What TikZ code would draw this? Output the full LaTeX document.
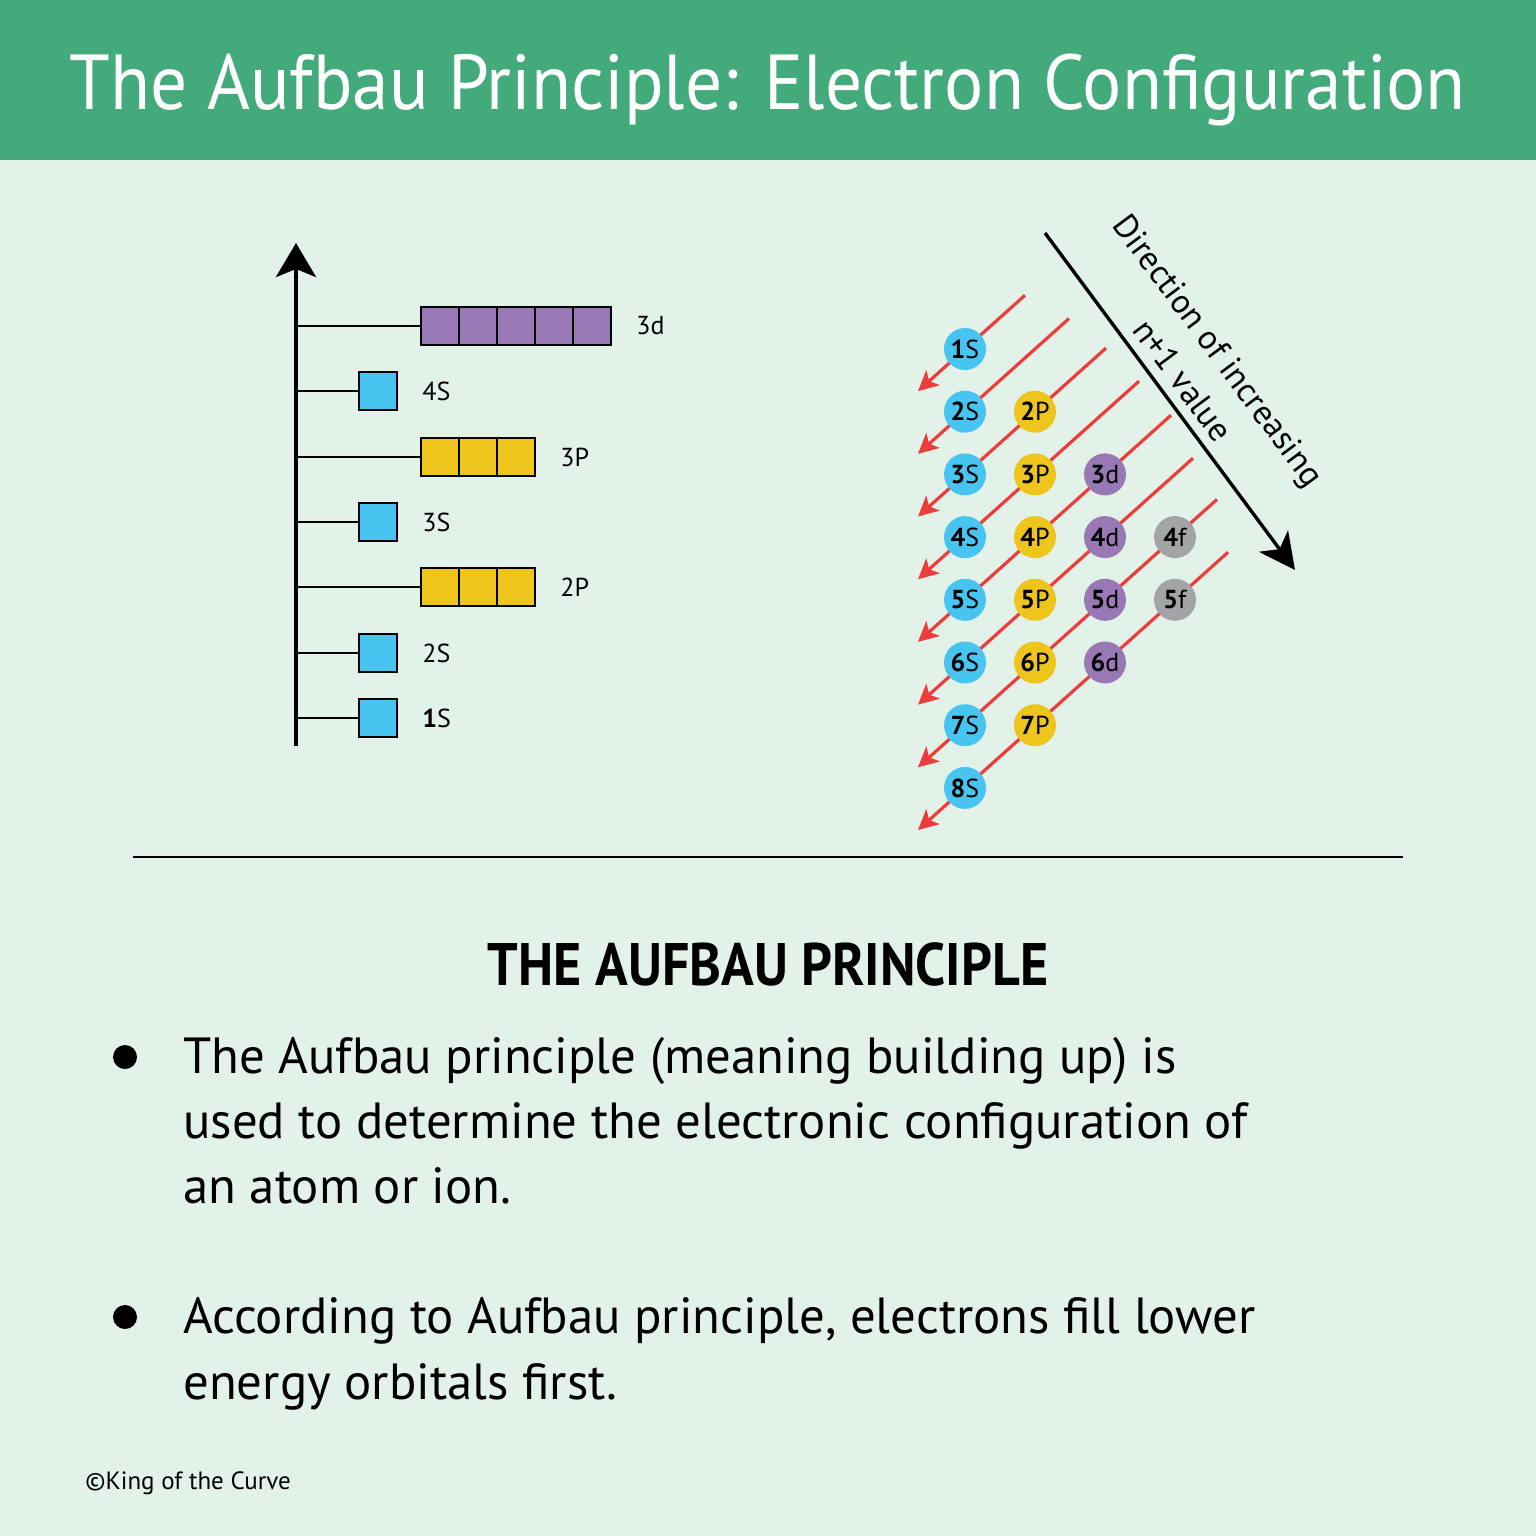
\documentclass[tikz,border=0pt]{standalone}
\usepackage{fontspec}
\setmainfont{PT Sans}
\newfontfamily\titlefont[FakeStretch=0.94]{PT Sans}
\newfontfamily\headfont[FakeStretch=0.9]{PT Sans}
\usetikzlibrary{arrows.meta,positioning,calc}
\definecolor{barGreen}{HTML}{42AA7B}
\definecolor{paleMint}{HTML}{E3F2E9}
\definecolor{sBlue}{HTML}{47C5F0}
\definecolor{pGold}{HTML}{EDC51C}
\definecolor{dPurple}{HTML}{9878B5}
\definecolor{fGray}{HTML}{A3A4A6}
\definecolor{lineRed}{HTML}{EC3D3D}
\tikzset{
  titletext/.style={anchor=base, text=white, inner sep=0pt,
                    font=\titlefont\fontsize{39}{44}\selectfont},
  headtext/.style={anchor=base, inner sep=0pt, font=\headfont\fontsize{30}{34}\selectfont\bfseries},
  bodytext/.style={anchor=base west, inner sep=0pt, font=\fontsize{25.4}{32}\selectfont},
  orbbox/.style={draw=black, line width=1pt, minimum size=19pt, inner sep=0pt},
  lvllabel/.style={inner sep=0pt, font=\fontsize{13}{15}\selectfont},
  orb/.style={circle, minimum size=21pt, inner sep=0pt, font=\fontsize{13}{15}\selectfont},
  tick/.style={line width=0.75pt},
  axisarr/.style={-{Stealth[length=17pt, width=20pt, inset=4pt]}, line width=2pt},
  dirarr/.style={-{Stealth[length=18pt, width=18pt, inset=5pt]}, line width=1.7pt},
  redarr/.style={-{Stealth[length=10pt, width=10pt, inset=2.5pt]}, line width=1.6pt, color=lineRed},
  dirtext/.style={inner sep=0pt, rotate=-53.4, font=\fontsize{17}{20}\selectfont},
  bullet/.style={circle, fill=black, minimum size=12pt, inner sep=0pt}}
\begin{document}
\begin{tikzpicture}[x=0.5pt,y=-0.5pt]
  \useasboundingbox (0,0) rectangle (1536,1536);
  \fill[paleMint] (0,0) rectangle (1536,1536);
  \fill[barGreen] (0,0) rectangle (1536,160);
  \node[titletext] (title) at (768,110) {The Aufbau Principle: Electron Configuration};

  % energy ladder
  \coordinate (axbot) at (296,746);
  \coordinate (axtop) at (296,243);
  \draw[axisarr] (axbot) -- (axtop);
  \foreach \nm/\yy/\cnt/\bx/\col/\txt in {
      l1s/718/1/378/sBlue/{\textbf{1}S},
      l2s/653/1/378/sBlue/2S,
      l2p/587/3/440/pGold/2P,
      l3s/522/1/378/sBlue/3S,
      l3p/457/3/440/pGold/3P,
      l4s/391/1/378/sBlue/4S,
      l3d/326/5/440/dPurple/3d}{
    \coordinate (\nm-ax) at (296,\yy);
    \foreach \i in {1,...,\cnt}
      \node[orbbox, fill=\col] (\nm-\i) at ({\bx+38*(\i-1)},\yy) {};
    \draw[tick] (\nm-ax) -- (\nm-1.west);
    \node[lvllabel, right=12pt of \nm-\cnt] (\nm-lbl) {\txt};
  }

  % diagonal filling order
  \foreach \k/\sx in {1/1025,2/1069,3/1106,4/1139,5/1171,6/1193,7/1217,8/1228}{
    \pgfmathsetmacro\yk{349+62.7*(\k-1)}
    \coordinate (r\k a) at (\sx,{\yk-0.896*(\sx-965)});
    \coordinate (r\k b) at (918,{\yk+42.1});
    \draw[redarr] (r\k a) -- (r\k b);
  }
  \foreach \n in {1,...,8}
    \node[orb, fill=sBlue] (o\n s) at (965,{349+62.7*(\n-1)}) {\textbf{\n}S};
  \foreach \n in {2,...,7}
    \node[orb, fill=pGold] (o\n p) at (1035,{349+62.7*(\n-1)}) {\textbf{\n}P};
  \foreach \n in {3,...,6}
    \node[orb, fill=dPurple] (o\n d) at (1105,{349+62.7*(\n-1)}) {\textbf{\n}d};
  \foreach \n in {4,5}
    \node[orb, fill=fGray] (o\n f) at (1175,{349+62.7*(\n-1)}) {\textbf{\n}f};

  \coordinate (dirA) at (1045,233);
  \coordinate (dirB) at (1295,570);
  \draw[dirarr] (dirA) -- (dirB);
  \node[dirtext] (dirlbl) at (1216,352) {Direction of increasing};
  \node[dirtext] (nlbl) at (1183,380) {n+1 value};

  \coordinate (ruleL) at (133,857);
  \coordinate (ruleR) at (1403,857);
  \draw[line width=1.25pt] (ruleL) -- (ruleR);

  \node[headtext] (head) at (768,985) {THE AUFBAU PRINCIPLE};
  \node[bullet] (bul1) at (125,1057) {};
  \node[bodytext] (b1a) at (183,1073) {The Aufbau principle (meaning building up) is};
  \node[bodytext] (b1b) at (183,1138) {used to determine the electronic configuration of};
  \node[bodytext] (b1c) at (183,1203) {an atom or ion.};
  \node[bullet] (bul2) at (125,1317) {};
  \node[bodytext] (b2a) at (183,1333) {According to Aufbau principle, electrons fill lower};
  \node[bodytext] (b2b) at (183,1399) {energy orbitals first.};

  \node[anchor=base west, inner sep=0pt, font=\fontsize{12.5}{15}\selectfont] (credit) at (85,1489) {©King of the Curve};
\end{tikzpicture}
\end{document}
